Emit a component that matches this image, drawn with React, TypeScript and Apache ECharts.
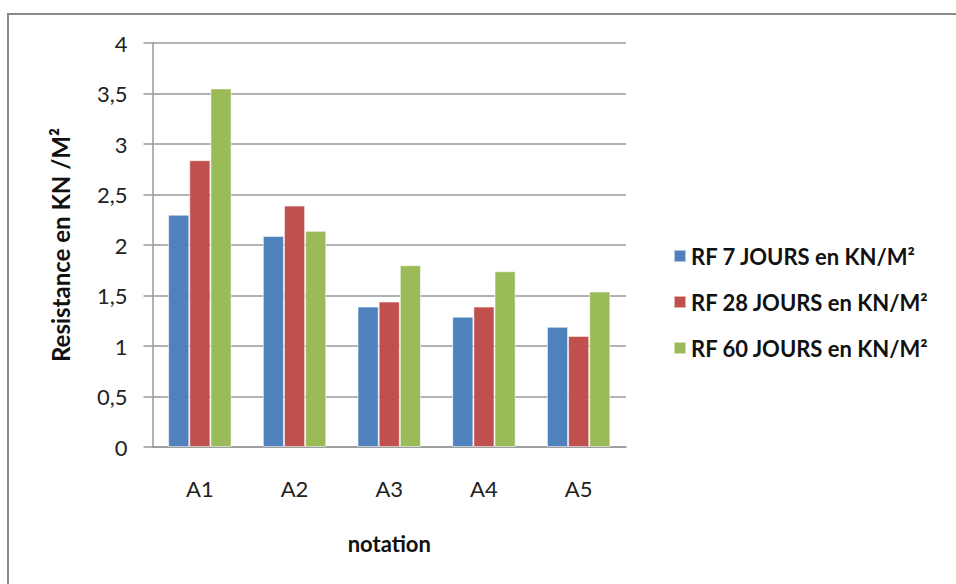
import React, { useEffect, useRef } from "react";
import * as echarts from "echarts";

const categories = ["A1", "A2", "A3", "A4", "A5"];
const seriesNames = [
  "RF 7 JOURS en KN/M²",
  "RF 28 JOURS en KN/M²",
  "RF 60 JOURS en KN/M²",
];
const rf7 = [2.3, 2.09, 1.39, 1.29, 1.19];
const rf28 = [2.84, 2.39, 1.44, 1.39, 1.1];
const rf60 = [3.55, 2.14, 1.8, 1.74, 1.54];
const colors = ["#4F81BD", "#C0504D", "#9BBB59"];

const FONT = "Lato, 'Open Sans', sans-serif";

export default function App() {
  const ref = useRef<HTMLDivElement>(null);

  useEffect(() => {
    if (!ref.current) return;
    const chart = echarts.init(ref.current, undefined, { renderer: "svg" });
    const values = [rf7, rf28, rf60];
    chart.setOption({
      animation: false,
      backgroundColor: "#ffffff",
      graphic: [
        {
          type: "rect",
          shape: { x: 8, y: 14, width: 980, height: 600 },
          style: { fill: "none", stroke: "#8a8a8a", lineWidth: 2 },
          silent: true,
        },
      ],
      grid: { left: 152.5, right: 330, top: 43, bottom: 137 },
      legend: {
        orient: "vertical",
        left: 668,
        top: 240,
        itemWidth: 12,
        itemHeight: 12,
        itemGap: 24,
        icon: "rect",
        textStyle: {
          fontFamily: FONT,
          fontSize: 22,
          fontWeight: "bold",
          color: "#111",
          padding: [0, 0, 0, 0],
        },
        data: seriesNames,
      },
      xAxis: {
        type: "category",
        data: categories,
        name: "notation",
        nameLocation: "middle",
        nameGap: 85,
        nameTextStyle: {
          fontFamily: FONT,
          fontSize: 22,
          fontWeight: "bold",
          color: "#111",
        },
        axisLine: { lineStyle: { color: "#999", width: 1.5 } },
        axisTick: { show: false },
        axisLabel: {
          margin: 30,
          fontFamily: FONT,
          fontSize: 22,
          color: "#222",
        },
      },
      yAxis: {
        type: "value",
        min: 0,
        max: 4,
        interval: 0.5,
        name: "Resistance en KN /M²",
        nameLocation: "middle",
        nameGap: 80,
        nameTextStyle: {
          fontFamily: FONT,
          fontSize: 24,
          fontWeight: "bold",
          color: "#111",
        },
        axisLine: { show: true, lineStyle: { color: "#999", width: 1.5 } },
        axisTick: { show: true, length: 9, lineStyle: { color: "#999", width: 1.5 } },
        splitLine: { lineStyle: { color: "#999", width: 1.5 } },
        axisLabel: {
          margin: 25,
          fontFamily: FONT,
          fontSize: 22,
          color: "#222",
          formatter: (v: number) => String(v).replace(".", ","),
        },
      },
      series: seriesNames.map((name, i) => ({
        name,
        type: "bar",
        data: values[i],
        barGap: "0%",
        barCategoryGap: "33%",
        itemStyle: {
          color: colors[i],
          borderColor: "rgba(255,255,255,0.55)",
          borderWidth: 1,
        },
      })),
    });
    return () => chart.dispose();
  }, []);

  return (
    <div
      ref={ref}
      style={{ position: "absolute", left: 0, top: 0, width: 956, height: 584 }}
    />
  );
}
